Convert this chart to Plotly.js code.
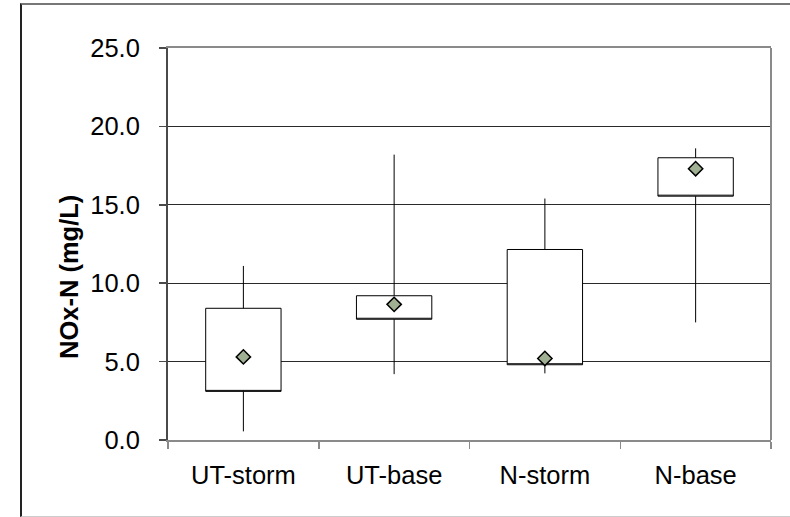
<!DOCTYPE html>
<html>
<head>
<meta charset="utf-8">
<script src="https://cdn.plot.ly/plotly-3.0.1.min.js"></script>
<style>
  html, body { margin: 0; padding: 0; background: #fff; }
  #wrap { position: relative; width: 790px; height: 517px; overflow: hidden; }
  #frame { position: absolute; left: 20px; top: 3px; width: 790px; height: 514px;
           border-left: 2px solid #222; border-top: 2px solid #777; border-bottom: 1px solid #ccc;
           box-sizing: border-box; pointer-events: none; z-index: 5; }
  #chart { position: absolute; left: 0; top: 0; width: 790px; height: 517px; }
</style>
</head>
<body>
<div id="wrap">
  <div id="chart"></div>
  <div id="frame"></div>
</div>
<script>
const categories = ['UT-storm', 'UT-base', 'N-storm', 'N-base'];
const whiskerHigh = [11.1, 18.2, 15.4, 18.6];
const boxTop      = [8.4, 9.2, 12.15, 18.0];
const boxBottom   = [3.1, 7.7, 4.8, 15.55];
const whiskerLow  = [0.55, 4.2, 4.25, 7.5];
const means       = [5.3, 8.65, 5.2, 17.3];
const yTickVals   = [0, 5, 10, 15, 20, 25];

const font = 'Liberation Sans, Arial, sans-serif';

const boxTrace = {
  type: 'box',
  x: categories,
  q1: boxBottom,
  median: boxBottom,
  q3: boxTop,
  lowerfence: whiskerLow,
  upperfence: whiskerHigh,
  width: 0.5,
  whiskerwidth: 0,
  fillcolor: '#ffffff',
  line: { color: '#000000', width: 1 },
  boxpoints: false,
  hoverinfo: 'skip',
  showlegend: false
};

const meanTrace = {
  type: 'scatter',
  mode: 'markers',
  x: categories,
  y: means,
  marker: { symbol: 'diamond', size: 11, color: '#9fb093', line: { color: '#000', width: 1.5 } },
  hoverinfo: 'skip',
  showlegend: false
};

const layout = {
  width: 790,
  height: 517,
  margin: { l: 168, r: 19, t: 48, b: 77 },
  paper_bgcolor: '#ffffff',
  plot_bgcolor: '#ffffff',
  font: { family: font, size: 25, color: '#000' },
  showlegend: false,
  xaxis: {
    type: 'category',
    range: [-0.5, 3.5],
    showgrid: false,
    zeroline: false,
    showline: true,
    linecolor: '#8a8a8a',
    linewidth: 2,
    mirror: true,
    ticks: 'outside',
    tickson: 'boundaries',
    ticklen: 7,
    tickcolor: '#8a8a8a',
    tickwidth: 1.5,
    tickfont: { family: font, size: 25.5, color: '#000' },
    ticklabelstandoff: 11
  },
  yaxis: {
    range: [0, 25],
    tickvals: yTickVals,
    tickformat: '.1f',
    showgrid: true,
    gridcolor: '#2a2a2a',
    gridwidth: 1,
    zeroline: false,
    showline: true,
    linecolor: '#4a4a4a',
    linewidth: 2,
    ticks: 'outside',
    ticklen: 7,
    tickcolor: '#4a4a4a',
    tickwidth: 1.5,
    tickfont: { family: font, size: 25.5, color: '#000' },
    ticklabelstandoff: 14
  },
  shapes: [
    { type: 'line', xref: 'paper', yref: 'paper', x0: 1, x1: 1, y0: 0, y1: 1,
      line: { color: '#8a8a8a', width: 2 } }
  ],
  annotations: [
    { text: '<b>NOx-N (mg/L)</b>', xref: 'paper', yref: 'paper', x: -0.164, y: 0.416,
      xanchor: 'center', yanchor: 'middle', textangle: -90, showarrow: false,
      font: { family: font, size: 25.5, color: '#000' } }
  ]
};

Plotly.newPlot('chart', [boxTrace, meanTrace], layout, { staticPlot: true, displayModeBar: false });
</script>
</body>
</html>
